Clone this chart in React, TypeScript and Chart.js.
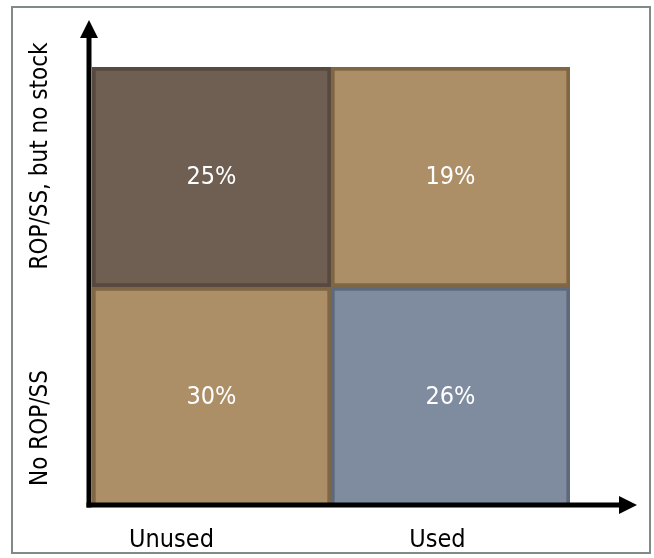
import React, { useEffect, useRef } from "react";
import { Chart, registerables } from "chart.js";

Chart.register(...registerables);

const columns = ["Unused", "Used"];
const rows = ["No ROP/SS", "ROP/SS, but no stock"];
const noRopShares = [30, 26];
const ropNoStockShares = [25, 19];
const cellHeight = [1, 1];

const FONT = '"DejaVu Sans Condensed", "DejaVu Sans", Verdana, sans-serif';

const framePlugin = {
  id: "frame",
  beforeDraw(chart: any) {
    const ctx = chart.ctx;
    ctx.save();
    ctx.fillStyle = "#ffffff";
    ctx.fillRect(0, 0, chart.width, chart.height);
    ctx.strokeStyle = "#808a86";
    ctx.lineWidth = 2;
    ctx.strokeRect(12, 7, 638, 546);
    ctx.restore();
  },
};

const overlayPlugin = {
  id: "overlay",
  afterDatasetsDraw(chart: any) {
    const ctx = chart.ctx;
    const { left, right, top, bottom } = chart.chartArea;
    ctx.save();
    // cell labels
    ctx.fillStyle = "#ffffff";
    ctx.font = `25px ${FONT}`;
    ctx.textAlign = "center";
    ctx.textBaseline = "middle";
    chart.data.datasets.forEach((ds: any, di: number) => {
      const meta = chart.getDatasetMeta(di);
      meta.data.forEach((el: any, i: number) => {
        const p = el.getCenterPoint();
        ctx.fillText(`${ds.shares[i]}%`, p.x, p.y);
      });
    });

    // axes
    ctx.fillStyle = "#000000";
    const ax = left - 3;
    const ay = bottom - 2;
    const w = 5;
    ctx.fillRect(ax - w / 2, top - 35, w, ay - (top - 35) + w / 2);
    ctx.beginPath();
    ctx.moveTo(ax, top - 47);
    ctx.lineTo(ax + 9, top - 29);
    ctx.lineTo(ax - 9, top - 29);
    ctx.closePath();
    ctx.fill();

    ctx.fillRect(ax - w / 2, ay - w / 2, right + 52 - (ax - w / 2), w);
    ctx.beginPath();
    ctx.moveTo(right + 67, ay);
    ctx.lineTo(right + 49, ay - 9);
    ctx.lineTo(right + 49, ay + 9);
    ctx.closePath();
    ctx.fill();

    // axis labels
    ctx.fillStyle = "#000000";
    ctx.font = `25px ${FONT}`;
    ctx.textAlign = "center";
    ctx.textBaseline = "alphabetic";
    const xs = chart.scales.x;
    const colOffsets = [-40, -13];
    columns.forEach((c, i) => {
      ctx.fillText(c, xs.getPixelForValue(i) + colOffsets[i], bottom + 40);
    });
    ctx.font = `24px ${FONT}`;
    const rowCenters = [428, 156];
    rows.forEach((r, i) => {
      ctx.save();
      ctx.translate(left - 51, rowCenters[i]);
      ctx.rotate(-Math.PI / 2);
      ctx.textBaseline = "middle";
      ctx.fillText(r, 0, 0);
      ctx.restore();
    });
    ctx.restore();
  },
};

export default function App() {
  const ref = useRef<HTMLCanvasElement | null>(null);
  useEffect(() => {
    document.body.style.margin = "0";
    const canvas = ref.current!;
    const chart = new Chart(canvas, {
      type: "bar",
      data: {
        labels: columns,
        datasets: [
          {
            label: rows[0],
            data: cellHeight,
            shares: noRopShares,
            backgroundColor: ["#ad8f67", "#7f8ca0"],
            borderColor: ["#7f6644", "#5e6a7c"],
            borderWidth: 4,
            borderSkipped: false,
            categoryPercentage: 1,
            barPercentage: 1,
          } as any,
          {
            label: rows[1],
            data: cellHeight,
            shares: ropNoStockShares,
            backgroundColor: ["#6f5f53", "#ad8f67"],
            borderColor: ["#574840", "#806744"],
            borderWidth: 4,
            borderSkipped: false,
            categoryPercentage: 1,
            barPercentage: 1,
          } as any,
        ],
      },
      options: {
        responsive: false,
        animation: false,
        layout: { padding: { left: 92, right: 84, top: 67, bottom: 51 } },
        plugins: { legend: { display: false }, tooltip: { enabled: false } },
        scales: {
          x: { stacked: true, display: false, grid: { display: false } },
          y: { stacked: true, display: false, min: 0, max: 2 },
        },
      },
      plugins: [framePlugin, overlayPlugin],
    });
    return () => chart.destroy();
  }, []);
  return <canvas ref={ref} width={654} height={558} style={{ display: "block" }} />;
}
